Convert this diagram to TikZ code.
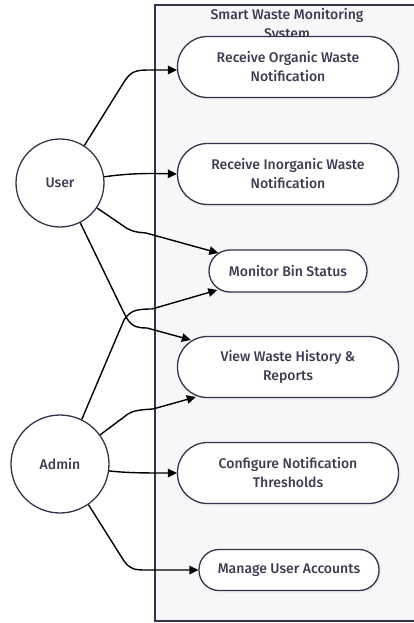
\documentclass[tikz,border=0pt]{standalone}
\usepackage{fontspec}
\setmainfont{Fira Sans Medium}
\usetikzlibrary{arrows.meta,calc,shadows}
\definecolor{ink}{RGB}{52,52,74}
\definecolor{txt}{RGB}{60,60,80}
\definecolor{panel}{RGB}{247,247,250}
\begin{document}
\begin{tikzpicture}[x=1pt,y=-1pt,
  usecase/.style={draw=ink, line width=1.3pt, fill=white, align=center, text=txt,
    font=\fontsize{14}{19}\selectfont, inner sep=0pt,
    drop shadow={opacity=0.08, shadow xshift=2pt, shadow yshift=-2pt}},
  bigcase/.style={usecase, minimum width=221pt, minimum height=61pt, rounded corners=30pt},
  actor/.style={circle, draw=ink, line width=1.3pt, fill=white, text=txt,
    font=\fontsize{14}{15}\selectfont, inner sep=0pt},
  link/.style={line width=1.4pt, black, -{Triangle[length=9pt,width=8.5pt]}}
]
\useasboundingbox (0,0) rectangle (414,623);
\clip (0,0) rectangle (414,623);

% system boundary
\draw[draw=ink, line width=1.3pt, fill=panel] (155,5) rectangle (421,621);
\node[text=txt, font=\fontsize{14}{19}\selectfont, align=center, anchor=north] (title) at (287,5)
  {Smart Waste Monitoring\\System};

% actors
\node[actor, minimum size=88pt] (user) at (60,183) {User};
\node[actor, minimum size=98pt] (admin) at (60,464) {Admin};

% use cases
\node[bigcase] (org) at (288,67) {Receive Organic Waste\\Notification};
\node[bigcase] (inorg) at (288,174) {Receive Inorganic Waste\\Notification};
\node[usecase, minimum width=158pt, minimum height=42pt, rounded corners=21pt] (mon) at (288,271) {Monitor Bin Status};
\node[bigcase] (hist) at (288,367) {View Waste History \&\\Reports};
\node[bigcase] (conf) at (288,473) {Configure Notification\\Thresholds};
\node[usecase, minimum width=180pt, minimum height=41pt, rounded corners=20pt] (acct) at (289,570) {Manage User Accounts};

% user links
\draw[link] (user.57) -- (124,82) .. controls (131,71) and (136,70) .. (150,70) -- ($(org.west)+(0,3)$);
\draw[link] (user.8) .. controls (125,174) and (140,173) .. (inorg.west);
\draw[link] (user.-34) -- (122,225) .. controls (130,231) and (134,232) .. (146,233) -- ($(mon.west)+(10,-18)$);
\draw[link] (user.-63) -- (124,313) .. controls (130,325) and (134,328) .. (147,328) -- ($(hist.west)+(14,-27)$);

% admin links
\draw[link] (admin.64) -- (124,320) .. controls (130,311) and (135,309) .. (152,309) -- ($(mon.west)+(9,19)$);
\draw[link] (admin.36) -- (124,417) .. controls (131,411) and (136,410) .. (153,409) -- ($(hist.west)+(19,30)$);
\draw[link] (admin.-8) .. controls (128,473) and (145,473) .. (conf.west);
\draw[link] (admin.-55) -- (124,561) .. controls (130,569) and (134,570) .. (146,570) -- (acct.west);
\end{tikzpicture}
\end{document}
